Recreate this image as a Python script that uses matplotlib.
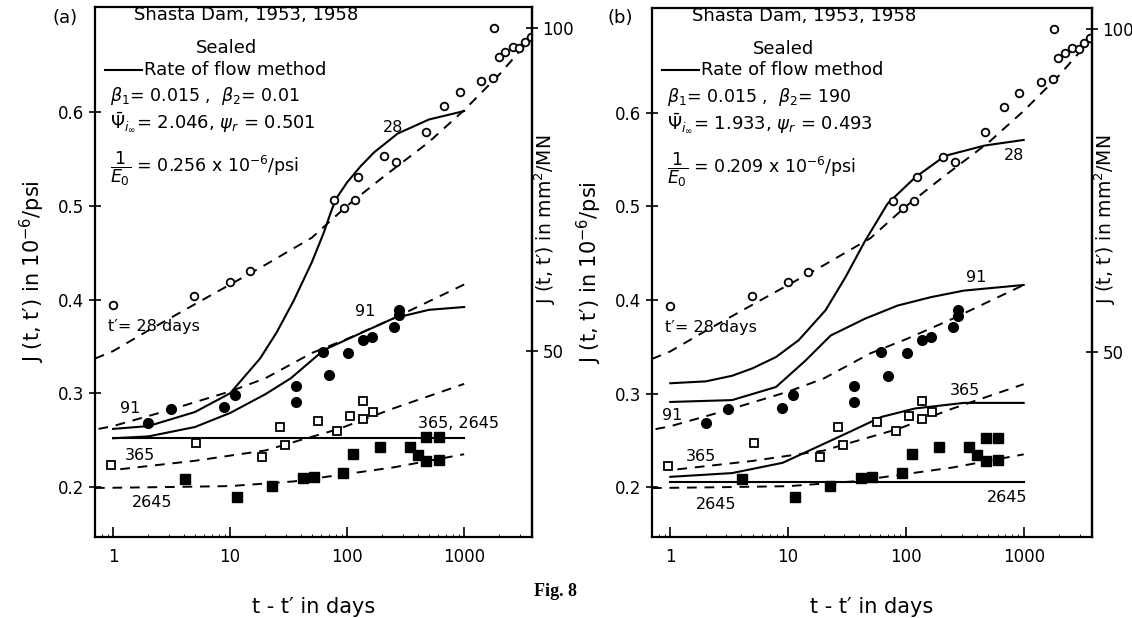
import matplotlib
matplotlib.use("Agg")
import matplotlib.pyplot as plt
from matplotlib.lines import Line2D
import numpy as np

plt.rcParams['font.family'] = ['DejaVu Sans']
plt.rcParams['mathtext.fontset'] = 'dejavusans'

# measured points (same tests in both panels)
t28 = [1.0, 4.9, 10, 14.8, 77, 94, 117, 125, 207, 262, 473, 675, 920, 1400, 1770, 1800, 1970, 2250, 2590, 2920, 3280, 3690]
J28 = [0.394, 0.404, 0.419, 0.430, 0.506, 0.498, 0.506, 0.531, 0.553, 0.547, 0.579, 0.606, 0.621, 0.633, 0.636, 0.690, 0.659, 0.664, 0.669, 0.668, 0.675, 0.680]

t91 = [2.0, 3.1, 8.9, 11, 36.6, 36.6, 62, 70, 102, 137, 163, 250, 277, 277]
J91 = [0.268, 0.283, 0.285, 0.298, 0.308, 0.291, 0.344, 0.319, 0.343, 0.357, 0.360, 0.371, 0.389, 0.383]

t365 = [0.96, 5.1, 18.8, 26.7, 29.5, 56.6, 82, 106, 137, 137, 167]
J365 = [0.223, 0.247, 0.232, 0.264, 0.245, 0.270, 0.260, 0.276, 0.292, 0.273, 0.280]

t2645 = [4.1, 11.5, 22.8, 42, 52, 92, 113, 191, 344, 405, 475, 475, 610, 610]
J2645 = [0.209, 0.189, 0.201, 0.210, 0.211, 0.215, 0.235, 0.243, 0.243, 0.234, 0.228, 0.253, 0.253, 0.229]

# dashed curves (shared)
d28_t = [0.7, 1, 2, 5, 10, 20, 50, 100, 200, 500, 1000, 2000, 3800]
d28_J = [0.337, 0.345, 0.367, 0.395, 0.416, 0.437, 0.466, 0.500, 0.530, 0.568, 0.602, 0.640, 0.680]
d91_t = [0.75, 1, 3, 10, 20, 50, 100, 250, 500, 1000]
d91_J = [0.262, 0.265, 0.282, 0.302, 0.316, 0.343, 0.358, 0.380, 0.398, 0.416]
d365_t = [1.15, 5, 20, 35, 85, 250, 1000]
d365_J = [0.219, 0.228, 0.239, 0.248, 0.262, 0.284, 0.310]
d2645_t = [0.7, 3, 10, 35, 100, 250, 1000]
d2645_J = [0.199, 0.200, 0.201, 0.206, 0.214, 0.221, 0.235]

# rate of flow method, panel (a)
a28_t = [1, 2, 5, 10, 18, 25, 35, 50, 63, 72, 80, 100, 130, 170, 270, 500, 1000]
a28_J = [0.262, 0.265, 0.280, 0.300, 0.337, 0.365, 0.399, 0.440, 0.471, 0.492, 0.507, 0.525, 0.542, 0.557, 0.577, 0.592, 0.601]
a91_t = [1, 2, 5, 10, 20, 33, 63, 130, 250, 500, 1000]
a91_J = [0.252, 0.254, 0.264, 0.279, 0.299, 0.316, 0.346, 0.364, 0.380, 0.389, 0.392]
a_old_t = [1, 1000]
a_old_J = [0.252, 0.252]

# rate of flow method, panel (b)
b28_t = [1, 2, 3.35, 5, 7.9, 12.3, 20.8, 30.6, 45, 70, 120, 215, 466, 1000]
b28_J = [0.311, 0.313, 0.319, 0.327, 0.339, 0.357, 0.389, 0.424, 0.463, 0.503, 0.531, 0.554, 0.565, 0.571]
b91_t = [1, 3.35, 7.9, 14, 23, 45, 85, 163, 310, 1000]
b91_J = [0.291, 0.293, 0.307, 0.335, 0.362, 0.380, 0.394, 0.403, 0.410, 0.416]
b365_t = [1, 3.35, 9, 17, 32, 62, 119, 310, 1000]
b365_J = [0.211, 0.215, 0.226, 0.242, 0.258, 0.275, 0.284, 0.290, 0.290]
b2645_t = [1, 1000]
b2645_J = [0.205, 0.205]

PSI2MM = 145.04  # 1e-6/psi -> mm^2/MN

W, H = 1132, 618
fig = plt.figure(figsize=(W / 100, H / 100), dpi=100)


def px_axes(x0, y0, x1, y1):
    return fig.add_axes([x0 / W, 1 - y1 / H, (x1 - x0) / W, (y1 - y0) / H])


def draw_panel(ax, solids, params, labels):
    lw = 1.5
    dash = dict(color='black', lw=1.4, ls=(0, (5, 4)))
    for tt, jj in [(d28_t, d28_J), (d91_t, d91_J), (d365_t, d365_J), (d2645_t, d2645_J)]:
        ax.plot(tt, jj, **dash)
    for tt, jj in solids:
        ax.plot(tt, jj, color='black', lw=lw)
    ax.plot(t28, J28, 'o', ms=5.5, mfc='white', mec='black', mew=1.3)
    ax.plot(t91, J91, 'o', ms=7, mfc='black', mec='black')
    ax.plot(t365, J365, 's', ms=5.5, mfc='white', mec='black', mew=1.3)
    ax.plot(t2645, J2645, 's', ms=6.5, mfc='black', mec='black')

    ax.set_xscale('log')
    ax.set_xlim(0.70, 3800)
    ax.set_ylim(0.1467, 0.712)
    ax.set_xticks([1, 10, 100, 1000])
    ax.set_xticklabels(['1', '10', '100', '1000'])
    ax.set_yticks([0.2, 0.3, 0.4, 0.5, 0.6])
    ax.set_yticklabels(['0.2', '0.3', '0.4', '0.5', '0.6'])
    ax.tick_params(axis='x', which='major', direction='in', length=7, width=1.2, labelsize=12, pad=8)
    ax.tick_params(axis='x', which='minor', direction='in', length=2, width=0.6)
    ax.tick_params(axis='y', direction='inout', length=8, width=1.2, labelsize=12)
    for s in ax.spines.values():
        s.set_linewidth(1.6)
    ax.set_xlabel('t - t\u2032 in days', fontsize=15, labelpad=22)
    ax.set_ylabel('J (t, t\u2032) in 10$^{-6}$/psi', fontsize=15, labelpad=8)

    sec = ax.secondary_yaxis('right', functions=(lambda j: j * PSI2MM, lambda m: m / PSI2MM))
    sec.set_yticks([50, 100])
    sec.set_yticklabels(['50', '100'])
    sec.tick_params(direction='inout', length=8, width=1.2, labelsize=12)
    sec.spines['right'].set_linewidth(1.6)

    # header texts
    ax.text(0.345, 0.985, 'Shasta Dam, 1953, 1958', transform=ax.transAxes, fontsize=13, ha='center', va='center')
    ax.text(0.30, 0.923, 'Sealed', transform=ax.transAxes, fontsize=13, ha='center', va='center')
    ax.add_line(Line2D([0.022, 0.107], [0.882, 0.882], transform=ax.transAxes, color='black', lw=1.5))
    ax.text(0.112, 0.882, 'Rate of flow method', transform=ax.transAxes, fontsize=13, ha='left', va='center')
    b1, b2, psi, psir, e0 = params
    ax.text(0.035, 0.832, r'$\beta_1$= %s ,  $\beta_2$= %s' % (b1, b2), transform=ax.transAxes,
            fontsize=12.5, ha='left', va='center')
    ax.text(0.035, 0.782, r'$\bar{\Psi}_{i_\infty}$= %s, $\psi_r$ = %s' % (psi, psir), transform=ax.transAxes,
            fontsize=13, ha='left', va='center')
    ax.text(0.035, 0.695, r'$\dfrac{1}{E_0}$ = %s x 10$^{-6}$/psi' % e0, transform=ax.transAxes,
            fontsize=12.5, ha='left', va='center')

    for txt, x, y in labels:
        ax.text(x, y, txt, fontsize=11.5, ha='center', va='center')
    ax.text(0.91, 0.371, 't\u2032= 28 days', fontsize=11.5, ha='left', va='center')
    return sec


axa = px_axes(95, 7, 532, 537)
seca = draw_panel(axa, [(a28_t, a28_J), (a91_t, a91_J), (a_old_t, a_old_J)],
                  ('0.015', '0.01', '2.046', '0.501', '0.256'),
                  [('28', 249, 0.584), ('91', 143, 0.387), ('91', 1.41, 0.284), ('365', 1.68, 0.234),
                   ('2645', 2.17, 0.183)])
axa.text(400, 0.268, '365, 2645', fontsize=11.5, ha='left', va='center')
seca.set_ylabel('J (t, t\u2032) in mm$^2$/MN', fontsize=13.5)
seca.yaxis.set_label_coords(1.045, 0.60)

axb = px_axes(652, 8, 1092, 537)
secb = draw_panel(axb, [(b28_t, b28_J), (b91_t, b91_J), (b365_t, b365_J), (b2645_t, b2645_J)],
                  ('0.015', '190', '1.933', '0.493', '0.209'),
                  [('28', 830, 0.554), ('91', 395, 0.424), ('91', 1.04, 0.277), ('365', 1.83, 0.233),
                   ('365', 315, 0.303), ('2645', 2.45, 0.181), ('2645', 720, 0.189)])
secb.set_ylabel('J (t, t\u2032) in mm$^2$/MN', fontsize=13.5)
secb.yaxis.set_label_coords(0.962, 0.60)

fig.text(65 / W, 1 - 18 / H, '(a)', fontsize=13, ha='center', va='center')
fig.text(620 / W, 1 - 18 / H, '(b)', fontsize=13, ha='center', va='center')
fig.text(555 / W, 1 - 592 / H, 'Fig. 8', fontsize=13, fontweight='bold', family='Liberation Serif',
         ha='center', va='center')

fig.savefig('out.png', dpi=100)
